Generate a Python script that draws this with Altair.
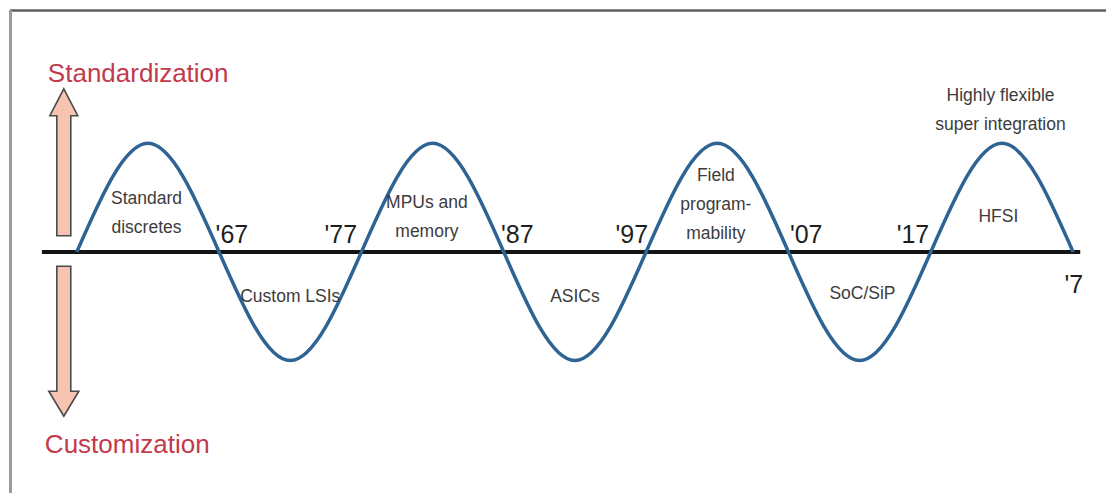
import altair as alt
import pandas as pd

# ---- data ----
wave_years = [1957, 1962, 1967, 1972, 1977, 1982, 1987, 1992, 1997, 2002, 2007, 2012, 2017, 2022, 2027]
wave_values = [0, 1, 0, -1, 0, 1, 0, -1, 0, 1, 0, -1, 0, 1, 0]

era_labels = ["Standard\ndiscretes", "Custom LSIs", "MPUs and\nmemory", "ASICs",
              "Field\nprogram-\nmability", "SoC/SiP", "HFSI", "Highly flexible\nsuper integration"]
era_x = [1961.9, 1972.0, 1981.6, 1992.0, 2001.9, 2012.2, 2021.75, 2021.9]
era_y = [0.438, -0.457, 0.402, -0.457, 0.658, -0.429, 0.274, 1.390]

year_labels = ["'67", "'77", "'87", "'97", "'07", "'17", "'7"]
year_x = [1967.9, 1975.55, 1987.95, 1996.0, 2008.25, 2015.75, 2027.05]
year_y = [0.082, 0.082, 0.082, 0.082, 0.082, 0.082, -0.374]

axis_titles = ["Standardization", "Customization"]
axis_title_x = [1954.97, 1954.76]
axis_title_y = [1.562, -1.854]

W, H = 1098, 485
XDOM = [1952.31, 2029.17]
YDOM = [-2.201, 2.228]

xs = alt.Scale(domain=XDOM, nice=False, zero=False)
ys = alt.Scale(domain=YDOM, nice=False, zero=False)


def X(f="x"):
    return alt.X(f"{f}:Q", scale=xs, axis=None)


def Y(f="y"):
    return alt.Y(f"{f}:Q", scale=ys, axis=None)


wave_df = pd.DataFrame({"x": wave_years, "y": wave_values})
era_df = pd.DataFrame({"label": era_labels, "x": era_x, "y": era_y})
year_df = pd.DataFrame({"label": year_labels, "x": year_x, "y": year_y})
title_df = pd.DataFrame({"label": axis_titles, "x": axis_title_x, "y": axis_title_y})
one = pd.DataFrame({"k": [0]})

# frame lines (top and left)
top_border = alt.Chart(one).mark_rule(color="#5e5e5e", strokeWidth=2.5).encode(
    x=alt.value(0), x2=alt.value(W), y=alt.value(0.5))
left_border = alt.Chart(one).mark_rule(color="#9a9a9a", strokeWidth=3).encode(
    x=alt.value(0.5), y=alt.value(0), y2=alt.value(H))

# horizontal time axis
axis_df = pd.DataFrame({"x": [1954.55], "x2": [2027.5], "y": [0]})
axis_line = alt.Chart(axis_df).mark_rule(color="#141414", strokeWidth=4).encode(
    x=X(), x2="x2:Q", y=Y())

wave = alt.Chart(wave_df).mark_line(
    interpolate="natural", color="#2f6394", strokeWidth=3.5).encode(
    x=X(), y=Y(), order="x:Q")

up_path = "M0,-1 L0.19,-0.633 L0.095,-0.633 L0.095,1 L-0.095,1 L-0.095,-0.633 L-0.19,-0.633 Z"
down_path = "M0,1 L0.2,0.667 L0.093,0.667 L0.093,-1 L-0.093,-1 L-0.093,0.667 L-0.2,0.667 Z"

up_arrow = alt.Chart(pd.DataFrame({"x": [1956.09], "y": [0.826]})).mark_point(
    shape=up_path, size=147 * 147, filled=True, fill="#f6c4b0", stroke="#4a4a4a",
    strokeWidth=1.6, opacity=1, fillOpacity=1, strokeOpacity=1).encode(x=X(), y=Y())
down_arrow = alt.Chart(pd.DataFrame({"x": [1956.09], "y": [-0.822]})).mark_point(
    shape=down_path, size=150 * 150, filled=True, fill="#f6c4b0", stroke="#4a4a4a",
    strokeWidth=1.6, opacity=1, fillOpacity=1, strokeOpacity=1).encode(x=X(), y=Y())

era_text = alt.Chart(era_df).mark_text(
    font="Liberation Sans", fontSize=17.5, color="#3c3c3c", align="center",
    baseline="alphabetic", lineBreak="\n", lineHeight=29).encode(
    x=X(), y=Y(), text="label:N")

year_text = alt.Chart(year_df).mark_text(
    font="Liberation Sans", fontSize=25,
    color="#1e1e1e", align="center", baseline="alphabetic").encode(
    x=X(), y=Y(), text="label:N")

title_text = alt.Chart(title_df).mark_text(
    font="Liberation Sans", fontSize=26,
    color="#c23a4b", align="left", baseline="alphabetic").encode(
    x=X(), y=Y(), text="label:N")

chart = alt.layer(
    top_border, left_border, axis_line, wave, up_arrow, down_arrow,
    era_text, year_text, title_text
).properties(
    width=W, height=H, padding=0,
    autosize=alt.AutoSizeParams(type="fit", contains="padding"),
    background="white",
).configure_view(stroke=None)

chart.save("out.html", embed_options={"renderer": "svg", "actions": False})
